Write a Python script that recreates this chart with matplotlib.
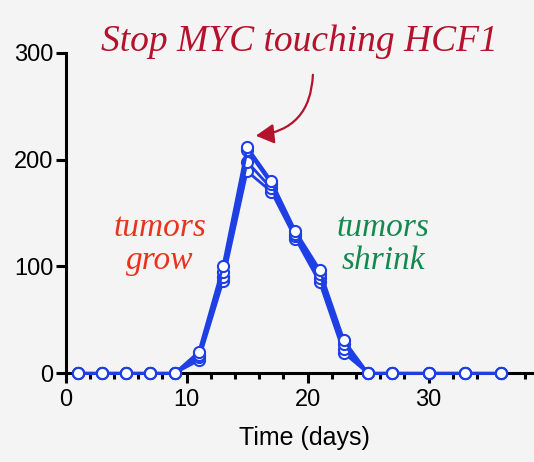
import numpy as np
import matplotlib
matplotlib.use("Agg")
from matplotlib import pyplot as plt
from matplotlib.ticker import MultipleLocator

days = [1, 3, 5, 7, 9, 11, 13, 15, 17, 19, 21, 23, 25, 27, 30, 33, 36]
mouse1 = [0, 0, 0, 0, 0, 20, 100, 212, 180, 133, 97, 31, 0, 0, 0, 0, 0]
mouse2 = [0, 0, 0, 0, 0, 17, 95, 209, 177, 130, 93, 27, 0, 0, 0, 0, 0]
mouse3 = [0, 0, 0, 0, 0, 15, 90, 198, 173, 128, 89, 23, 0, 0, 0, 0, 0]
mouse4 = [0, 0, 0, 0, 0, 12, 86, 189, 170, 126, 85, 19, 0, 0, 0, 0, 0]
yticks = [0, 100, 200, 300]
xticks = [0, 10, 20, 30]

bg = "#f4f4f4"
blue = "#1e3fe4"

fig = plt.figure(figsize=(5.34, 4.62), dpi=100, facecolor=bg)
ax = fig.add_axes([0.123, 0.192, 0.906, 0.694])
ax.set_facecolor(bg)

for ys in [mouse4, mouse3, mouse2, mouse1]:
    ax.plot(days, ys, color=blue, lw=2.0, marker="o", ms=8,
            mfc="white", mec=blue, mew=1.5, clip_on=False, zorder=3)

ax.set_xlim(0, 40)
ax.set_ylim(0, 300)
ax.set_xticks(xticks)
ax.set_yticks(yticks)
ax.xaxis.set_minor_locator(MultipleLocator(2))

for s in ["top", "right"]:
    ax.spines[s].set_visible(False)
for s in ["left", "bottom"]:
    ax.spines[s].set_linewidth(2.2)

ax.tick_params(axis="both", which="major", length=7, width=2.2,
               labelsize=17, pad=2)
ax.tick_params(axis="x", which="major", pad=4)
ax.tick_params(axis="x", which="minor", length=4.5, width=2.2)
for lab in ax.get_xticklabels() + ax.get_yticklabels():
    lab.set_family("Liberation Sans")

ax.set_xlabel("Time (days)", fontsize=18, family="Liberation Sans")
ax.xaxis.set_label_coords((305 - 65.7) / 484, -0.165)

serif = dict(family="Liberation Serif", style="italic")
fig.text(299 / 534, 1 - 42 / 462, "Stop MYC touching HCF1", color="#b3132c",
         fontsize=27, ha="center", va="center", **serif)
fig.text(160 / 534, 1 - 244 / 462, "tumors\ngrow", color="#e8341f",
         fontsize=24, ha="center", va="center", linespacing=1.1, **serif)
fig.text(383 / 534, 1 - 244 / 462, "tumors\nshrink", color="#14894f",
         fontsize=24, ha="center", va="center", linespacing=1.1, **serif)

fig.patches.append(matplotlib.patches.FancyArrowPatch(
    (313 / 534, 1 - 72 / 462), (253 / 534, 1 - 136 / 462),
    transform=fig.transFigure, connectionstyle="arc3,rad=-0.45",
    arrowstyle="-|>,head_length=11,head_width=6", color="#b3132c", lw=1.6))

fig.savefig("out.png", dpi=100, facecolor=bg)
